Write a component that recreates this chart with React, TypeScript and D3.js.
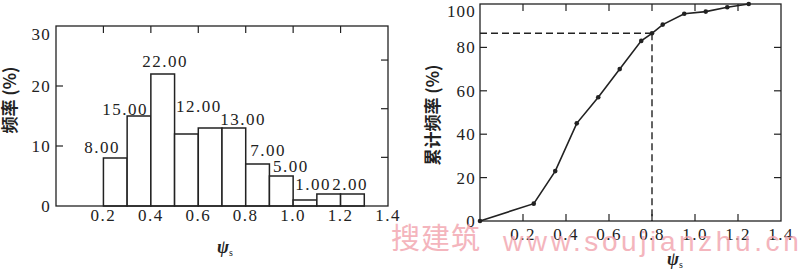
import React from "react";
import * as d3 from "d3";

// ---------- data ----------
const binStarts = [0.2, 0.3, 0.4, 0.5, 0.6, 0.7, 0.8, 0.9, 1.0, 1.1, 1.2];
const binWidth = 0.1;
const freq = [8, 15, 22, 12, 13, 13, 7, 5, 1, 2, 2];

const barLabelText = ["8.00", "15.00", "22.00", "12.00", "13.00", "7.00", "5.00", "1.00", "2.00"];
const barLabelX = [0.194, 0.291, 0.46, 0.602, 0.789, 0.894, 0.99, 1.084, 1.24];
const barLabelY = [8.8, 15.2, 23.2, 15.7, 13.5, 8.4, 5.7, 2.7, 2.7];

const xTicks = [0.2, 0.4, 0.6, 0.8, 1.0, 1.2, 1.4];
const xTickLabels = ["0.2", "0.4", "0.6", "0.8", "1.0", "1.2", "1.4"];
const freqYTicks = [0, 10, 20, 30];
const freqRightTicks = [1, 2, 3];

const cumX = [0, 0.25, 0.35, 0.45, 0.55, 0.65, 0.75, 0.8, 0.85, 0.95, 1.05, 1.15, 1.25];
const cumY = [0, 8, 23, 45, 57, 70, 83, 86.5, 90.5, 95.5, 96.5, 98.5, 100];
const cumYTicks = [0, 20, 40, 60, 80, 100];
const markX = 0.8;
const markY = 86.5;

const INK = "#222";
const SERIF = "'Liberation Serif', 'Times New Roman', serif";
const CJK = "'Noto Sans CJK SC', sans-serif";

function PsiTitle({ x, y }: { x: number; y: number }) {
  return (
    <text x={x} y={y} fill={INK} fontFamily={SERIF}>
      <tspan fontSize={18} fontStyle="italic" fontWeight="bold">ψ</tspan>
      <tspan fontSize={10} dy={3}>s</tspan>
    </text>
  );
}

export default function App() {
  // left chart
  const L = { left: 56, right: 388, top: 26, bottom: 206 };
  const lx = d3.scaleLinear().domain([0, 1.4]).range([L.left, L.right]);
  const ly = d3.scaleLinear().domain([0, 30]).range([L.bottom, L.top]);
  const lyR = d3.scaleLinear().domain([0, 3.7]).range([L.bottom, L.top]);

  // right chart
  const R = { left: 480, right: 781, top: 4, bottom: 221 };
  const rx = d3.scaleLinear().domain([0, 1.4]).range([R.left, R.right]);
  const ry = d3.scaleLinear().domain([0, 100]).range([R.bottom, R.top]);

  const cumPts: [number, number][] = cumX.map((v, i) => [v, cumY[i]]);
  const line = d3
    .line<[number, number]>()
    .x((d) => rx(d[0]))
    .y((d) => ry(d[1]));

  const tl = 7;
  const innerX = xTicks.filter((t) => t < 1.39);

  return (
    <svg
      width={800}
      height={270}
      style={{ position: "fixed", left: 0, top: 0, background: "#fff" }}
    >
      <rect x={0} y={0} width={800} height={270} fill="#fff" />

      {/* ===== LEFT: histogram ===== */}
      <g>
        {binStarts.map((b, i) => (
          <rect
            key={i}
            x={lx(b)}
            y={ly(freq[i])}
            width={lx(b + binWidth) - lx(b)}
            height={ly(0) - ly(freq[i])}
            fill="#fff"
            stroke={INK}
            strokeWidth={1.5}
          />
        ))}
        <rect
          x={L.left}
          y={L.top}
          width={L.right - L.left}
          height={L.bottom - L.top}
          fill="none"
          stroke={INK}
          strokeWidth={1.3}
        />
        {innerX.map((t, i) => (
          <line key={"lt" + i} x1={lx(t)} x2={lx(t)} y1={L.top} y2={L.top + tl} stroke={INK} strokeWidth={1.2} />
        ))}
        {freqYTicks.filter((t) => t > 0 && t < 30).map((t, i) => (
          <line key={"ll" + i} x1={L.left} x2={L.left + tl} y1={ly(t)} y2={ly(t)} stroke={INK} strokeWidth={1.2} />
        ))}
        {freqRightTicks.map((t, i) => (
          <line key={"lr" + i} x1={L.right - tl} x2={L.right} y1={lyR(t)} y2={lyR(t)} stroke={INK} strokeWidth={1.2} />
        ))}
        {freqYTicks.map((t, i) => (
          <text
            key={"lyl" + i}
            x={L.left - 5}
            y={Math.max(ly(t) + 6, L.top + 14)}
            textAnchor="end"
            fontFamily={SERIF}
            fontSize={17}
            letterSpacing={1.2}
            fill={INK}
          >
            {t}
          </text>
        ))}
        {xTicks.map((t, i) => (
          <text
            key={"lxl" + i}
            x={lx(t)}
            y={221}
            textAnchor="middle"
            fontFamily={SERIF}
            fontSize={17}
            letterSpacing={1.5}
            fill={INK}
          >
            {xTickLabels[i]}
          </text>
        ))}
        {barLabelText.map((s, i) => (
          <text
            key={"bl" + i}
            x={lx(barLabelX[i])}
            y={ly(barLabelY[i])}
            textAnchor="middle"
            fontFamily={SERIF}
            fontSize={17}
            letterSpacing={1.5}
            fill={INK}
          >
            {s}
          </text>
        ))}
        <text
          transform="translate(16,100) rotate(-90)"
          textAnchor="middle"
          fontFamily={CJK}
          fontSize={17}
          fontWeight="bold"
          fill={INK}
        >
          频率 (%)
        </text>
        <PsiTitle x={217} y={253} />
      </g>

      {/* ===== RIGHT: cumulative ===== */}
      <g>
        <rect
          x={R.left}
          y={R.top}
          width={R.right - R.left}
          height={R.bottom - R.top}
          fill="none"
          stroke={INK}
          strokeWidth={1.3}
        />
        {innerX.map((t, i) => (
          <g key={"rt" + i}>
            <line x1={rx(t)} x2={rx(t)} y1={R.top} y2={R.top + tl} stroke={INK} strokeWidth={1.2} />
            <line x1={rx(t)} x2={rx(t)} y1={R.bottom - tl} y2={R.bottom} stroke={INK} strokeWidth={1.2} />
          </g>
        ))}
        {cumYTicks.filter((t) => t > 0 && t < 100).map((t, i) => (
          <g key={"ry" + i}>
            <line x1={R.left} x2={R.left + tl} y1={ry(t)} y2={ry(t)} stroke={INK} strokeWidth={1.2} />
            <line x1={R.right - tl} x2={R.right} y1={ry(t)} y2={ry(t)} stroke={INK} strokeWidth={1.2} />
          </g>
        ))}
        {cumYTicks.map((t, i) => (
          <text
            key={"ryl" + i}
            x={R.left - 4}
            y={Math.max(ry(t) + 6, R.top + 13)}
            textAnchor="end"
            fontFamily={SERIF}
            fontSize={17}
            letterSpacing={1.2}
            fill={INK}
          >
            {t}
          </text>
        ))}
        {xTicks.map((t, i) => (
          <text
            key={"rxl" + i}
            x={rx(t)}
            y={240}
            textAnchor="middle"
            fontFamily={SERIF}
            fontSize={17}
            letterSpacing={1.5}
            fill={INK}
          >
            {xTickLabels[i]}
          </text>
        ))}
        <line
          x1={R.left}
          x2={rx(markX)}
          y1={ry(markY)}
          y2={ry(markY)}
          stroke={INK}
          strokeWidth={1.4}
          strokeDasharray="7,4"
        />
        <line
          x1={rx(markX)}
          x2={rx(markX)}
          y1={ry(markY)}
          y2={R.bottom}
          stroke={INK}
          strokeWidth={1.4}
          strokeDasharray="7,4"
        />
        <path d={line(cumPts) || ""} fill="none" stroke={INK} strokeWidth={1.6} />
        {cumPts.map((p, i) => (
          <circle key={"pt" + i} cx={rx(p[0])} cy={ry(p[1])} r={2.3} fill={INK} />
        ))}
        <text
          transform="translate(439,115) rotate(-90)"
          textAnchor="middle"
          fontFamily={CJK}
          fontSize={17}
          fontWeight="bold"
          fill={INK}
        >
          累计频率 (%)
        </text>
        <PsiTitle x={667} y={265} />
      </g>

      {/* watermark */}
      <g fill="#f2a3ad" opacity={0.8}>
        <text x={391} y={249} fontFamily={CJK} fontSize={29} letterSpacing={1}>
          搜建筑
        </text>
        <text x={503} y={251} fontFamily="'Liberation Sans', sans-serif" fontSize={28} letterSpacing={3.6}>
          www.soujianzhu.cn
        </text>
      </g>
    </svg>
  );
}
